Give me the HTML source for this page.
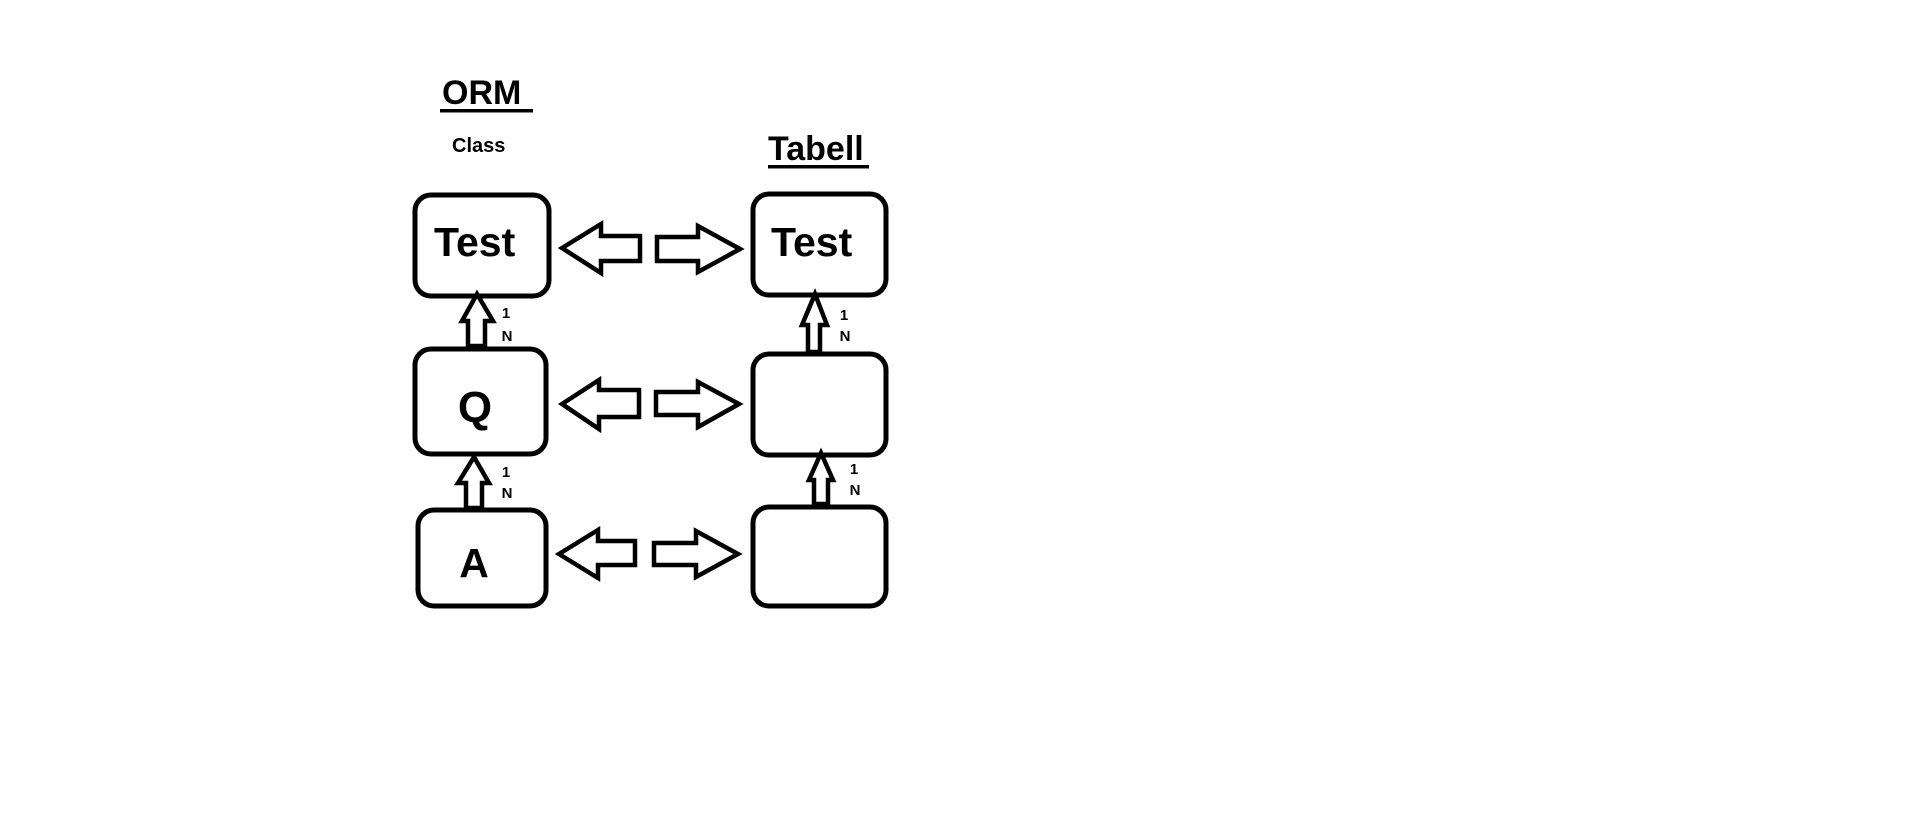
<!DOCTYPE html>
<html><head><style>html,body{margin:0;padding:0;background:#fff;}svg{display:block}</style></head>
<body>
<svg width="1914" height="821" xmlns="http://www.w3.org/2000/svg" font-family="Liberation Sans, sans-serif" font-weight="bold">
<g fill="none" stroke="#000" stroke-width="5" stroke-linejoin="miter">
<rect x="415" y="195" width="134" height="101" rx="16"/>
<rect x="415" y="349" width="131" height="105" rx="16"/>
<rect x="418" y="510" width="128" height="96" rx="16"/>
<rect x="753" y="194" width="133" height="101" rx="16"/>
<rect x="753" y="354" width="133" height="101" rx="16"/>
<rect x="753" y="507" width="133" height="99" rx="16"/>
</g>
<g fill="none" stroke="#000" stroke-width="4.5" stroke-linejoin="miter">
<!-- horizontal arrows -->
<polygon points="562,248 601,224 601,236 640,236 640,261 601,261 601,273"/>
<polygon points="740,249 698,226 698,237 657,237 657,261 698,261 698,272"/>
<polygon points="562,404 599,380 599,390 639,390 639,417 599,417 599,429"/>
<polygon points="739,404 698,382 698,392 656,392 656,415 698,415 698,427"/>
<polygon points="559,554 598,530 598,541 635,541 635,565 598,565 598,578"/>
<polygon points="738,554 696,531 696,543 654,543 654,565 696,565 696,577"/>
<!-- vertical arrows -->
<polygon points="477,294 493,321 485,321 485,346 468,346 468,321 462,321"/>
<polygon points="474,457 489,483 482,483 482,508 466,508 466,483 458,483"/>
<polygon points="815,294 827,325 820,325 820,352 808,352 808,325 802,325"/>
<polygon points="821,453 833,480 828,480 828,504 814,504 814,480 809,480"/>
</g>
<g fill="#000">
<text x="442" y="104" font-size="34">ORM</text>
<rect x="440" y="109" width="93" height="3.5"/>
<text x="452" y="152" font-size="20">Class</text>
<text x="768" y="160" font-size="34">Tabell</text>
<rect x="768" y="165" width="101" height="3.5"/>
<text x="434" y="256" font-size="41">Test</text>
<text x="771" y="256" font-size="41">Test</text>
<text x="475" y="422" font-size="44" text-anchor="middle">Q</text>
<text x="474" y="577" font-size="41" text-anchor="middle">A</text>
<g font-size="15" text-anchor="middle">
<text x="506" y="318">1</text><text x="507" y="341">N</text>
<text x="506" y="477">1</text><text x="507" y="498">N</text>
<text x="844" y="320">1</text><text x="845" y="341">N</text>
<text x="854" y="474">1</text><text x="855" y="495">N</text>
</g>
</g>
</svg>
</body></html>
